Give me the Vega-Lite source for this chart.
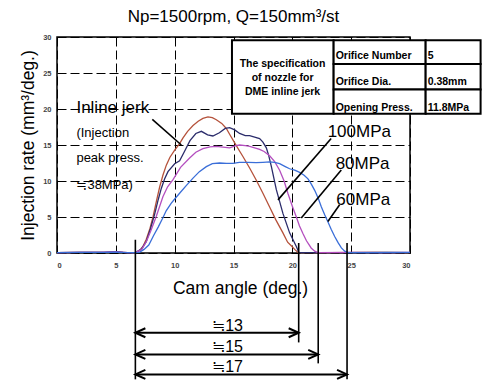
{
  "$schema": "https://vega.github.io/schema/vega-lite/v6.json",
  "width": 353,
  "height": 216,
  "autosize": {"type": "none"},
  "padding": {"left": 57, "top": 37, "right": 72, "bottom": 127},
  "background": "white",
  "title": {"text": "Np=1500rpm, Q=150mm³/st", "fontSize": 17, "fontWeight": "normal", "font": "Liberation Sans", "color": "black", "offset": 7},
  "config": {
    "view": {"stroke": "black", "strokeWidth": 1.5},
    "font": "Liberation Sans",
    "axis": {"grid": true, "gridColor": "black", "gridDash": [9, 4], "gridWidth": 1, "gridOpacity": 1, "domain": false, "ticks": false, "labelFont": "Liberation Sans", "labelFontSize": 7.5, "labelFontWeight": "bold", "labelColor": "#444", "titleFont": "Liberation Sans", "titleFontSize": 17.5, "titleFontWeight": "normal", "titleColor": "black"}
  },
  "datasets": {
    "curves": [
      {"s": "Inline jerk", "x": 0, "y": 0.05}, {"s": "Inline jerk", "x": 2, "y": 0.08}, {"s": "Inline jerk", "x": 4, "y": 0.08}, {"s": "Inline jerk", "x": 5, "y": 0.15}, {"s": "Inline jerk", "x": 6, "y": 0.05}, {"s": "Inline jerk", "x": 6.66, "y": 0.05},
      {"s": "Inline jerk", "x": 7.0, "y": 0.3}, {"s": "Inline jerk", "x": 7.3, "y": 0.9}, {"s": "Inline jerk", "x": 7.59, "y": 1.9}, {"s": "Inline jerk", "x": 7.9, "y": 3.4}, {"s": "Inline jerk", "x": 8.16, "y": 5.0}, {"s": "Inline jerk", "x": 8.45, "y": 7.2}, {"s": "Inline jerk", "x": 8.73, "y": 9.2}, {"s": "Inline jerk", "x": 9.0, "y": 10.8}, {"s": "Inline jerk", "x": 9.29, "y": 12.2}, {"s": "Inline jerk", "x": 9.6, "y": 13.3}, {"s": "Inline jerk", "x": 10.0, "y": 14.3}, {"s": "Inline jerk", "x": 10.42, "y": 15.2}, {"s": "Inline jerk", "x": 10.71, "y": 16.0}, {"s": "Inline jerk", "x": 11.1, "y": 16.9}, {"s": "Inline jerk", "x": 11.56, "y": 17.7}, {"s": "Inline jerk", "x": 12.0, "y": 18.3}, {"s": "Inline jerk", "x": 12.4, "y": 18.7}, {"s": "Inline jerk", "x": 12.83, "y": 18.9}, {"s": "Inline jerk", "x": 13.2, "y": 18.8}, {"s": "Inline jerk", "x": 13.54, "y": 18.5}, {"s": "Inline jerk", "x": 14.0, "y": 18.0}, {"s": "Inline jerk", "x": 14.39, "y": 17.3}, {"s": "Inline jerk", "x": 14.67, "y": 16.5}, {"s": "Inline jerk", "x": 15.1, "y": 15.3}, {"s": "Inline jerk", "x": 15.5, "y": 14.2}, {"s": "Inline jerk", "x": 15.8, "y": 13.4}, {"s": "Inline jerk", "x": 16.37, "y": 11.8}, {"s": "Inline jerk", "x": 16.94, "y": 10.1}, {"s": "Inline jerk", "x": 17.5, "y": 8.3}, {"s": "Inline jerk", "x": 18.07, "y": 6.4}, {"s": "Inline jerk", "x": 18.6, "y": 4.6}, {"s": "Inline jerk", "x": 19.2, "y": 2.8}, {"s": "Inline jerk", "x": 19.6, "y": 1.5}, {"s": "Inline jerk", "x": 19.91, "y": 1.0}, {"s": "Inline jerk", "x": 20.2, "y": 0.5}, {"s": "Inline jerk", "x": 20.5, "y": 0.05}, {"s": "Inline jerk", "x": 23, "y": 0.05}, {"s": "Inline jerk", "x": 27, "y": 0.08}, {"s": "Inline jerk", "x": 30, "y": 0.05},

      {"s": "100MPa", "x": 0, "y": 0.05}, {"s": "100MPa", "x": 2, "y": 0.1}, {"s": "100MPa", "x": 4, "y": 0.1}, {"s": "100MPa", "x": 5, "y": 0.2}, {"s": "100MPa", "x": 5.6, "y": 0.08}, {"s": "100MPa", "x": 6.66, "y": 0.05},
      {"s": "100MPa", "x": 7.2, "y": 0.6}, {"s": "100MPa", "x": 7.59, "y": 1.6}, {"s": "100MPa", "x": 7.95, "y": 3.4}, {"s": "100MPa", "x": 8.3, "y": 5.4}, {"s": "100MPa", "x": 8.6, "y": 7.4}, {"s": "100MPa", "x": 8.87, "y": 9.0}, {"s": "100MPa", "x": 9.15, "y": 10.3}, {"s": "100MPa", "x": 9.43, "y": 11.3}, {"s": "100MPa", "x": 10.0, "y": 12.4}, {"s": "100MPa", "x": 10.42, "y": 12.8}, {"s": "100MPa", "x": 10.8, "y": 14.0}, {"s": "100MPa", "x": 11.3, "y": 15.6}, {"s": "100MPa", "x": 11.8, "y": 16.6}, {"s": "100MPa", "x": 12.27, "y": 16.9}, {"s": "100MPa", "x": 12.8, "y": 16.4}, {"s": "100MPa", "x": 13.25, "y": 16.25}, {"s": "100MPa", "x": 13.8, "y": 16.7}, {"s": "100MPa", "x": 14.3, "y": 17.3}, {"s": "100MPa", "x": 14.67, "y": 17.4}, {"s": "100MPa", "x": 15.1, "y": 17.1}, {"s": "100MPa", "x": 15.52, "y": 16.6}, {"s": "100MPa", "x": 16.0, "y": 16.3}, {"s": "100MPa", "x": 16.37, "y": 16.3}, {"s": "100MPa", "x": 16.8, "y": 16.1}, {"s": "100MPa", "x": 17.22, "y": 15.9}, {"s": "100MPa", "x": 17.5, "y": 15.4}, {"s": "100MPa", "x": 17.79, "y": 14.6}, {"s": "100MPa", "x": 18.0, "y": 13.5}, {"s": "100MPa", "x": 18.22, "y": 12.0}, {"s": "100MPa", "x": 18.64, "y": 8.8}, {"s": "100MPa", "x": 19.2, "y": 5.5}, {"s": "100MPa", "x": 19.77, "y": 2.8}, {"s": "100MPa", "x": 20.34, "y": 0.9}, {"s": "100MPa", "x": 20.56, "y": 0.05}, {"s": "100MPa", "x": 24, "y": 0.05}, {"s": "100MPa", "x": 28, "y": 0.1}, {"s": "100MPa", "x": 30, "y": 0.05},

      {"s": "80MPa", "x": 0, "y": 0.05}, {"s": "80MPa", "x": 2, "y": 0.1}, {"s": "80MPa", "x": 3.5, "y": 0.08}, {"s": "80MPa", "x": 5, "y": 0.15}, {"s": "80MPa", "x": 6, "y": 0.05}, {"s": "80MPa", "x": 6.66, "y": 0.05},
      {"s": "80MPa", "x": 7.2, "y": 0.5}, {"s": "80MPa", "x": 7.6, "y": 1.6}, {"s": "80MPa", "x": 8.0, "y": 3.2}, {"s": "80MPa", "x": 8.44, "y": 5.1}, {"s": "80MPa", "x": 9.0, "y": 7.8}, {"s": "80MPa", "x": 9.4, "y": 9.2}, {"s": "80MPa", "x": 9.86, "y": 10.2}, {"s": "80MPa", "x": 10.5, "y": 11.9}, {"s": "80MPa", "x": 11.27, "y": 13.2}, {"s": "80MPa", "x": 11.8, "y": 14.0}, {"s": "80MPa", "x": 12.4, "y": 14.5}, {"s": "80MPa", "x": 13.0, "y": 14.75}, {"s": "80MPa", "x": 13.54, "y": 14.8}, {"s": "80MPa", "x": 14.1, "y": 14.7}, {"s": "80MPa", "x": 14.67, "y": 14.6}, {"s": "80MPa", "x": 15.2, "y": 14.9}, {"s": "80MPa", "x": 15.52, "y": 15.0}, {"s": "80MPa", "x": 16.0, "y": 14.9}, {"s": "80MPa", "x": 16.37, "y": 14.8}, {"s": "80MPa", "x": 16.8, "y": 14.6}, {"s": "80MPa", "x": 17.22, "y": 14.4}, {"s": "80MPa", "x": 17.6, "y": 14.1}, {"s": "80MPa", "x": 18.07, "y": 13.5}, {"s": "80MPa", "x": 18.5, "y": 12.7}, {"s": "80MPa", "x": 18.92, "y": 11.5}, {"s": "80MPa", "x": 19.3, "y": 10.0}, {"s": "80MPa", "x": 19.62, "y": 8.3}, {"s": "80MPa", "x": 20.0, "y": 6.5}, {"s": "80MPa", "x": 20.34, "y": 5.0}, {"s": "80MPa", "x": 20.6, "y": 3.8}, {"s": "80MPa", "x": 20.9, "y": 2.7}, {"s": "80MPa", "x": 21.2, "y": 1.7}, {"s": "80MPa", "x": 21.6, "y": 0.7}, {"s": "80MPa", "x": 21.9, "y": 0.25}, {"s": "80MPa", "x": 22.18, "y": 0.05}, {"s": "80MPa", "x": 25, "y": 0.08}, {"s": "80MPa", "x": 28, "y": 0.05}, {"s": "80MPa", "x": 30, "y": 0.08},

      {"s": "60MPa", "x": 0, "y": 0.05}, {"s": "60MPa", "x": 2, "y": 0.08}, {"s": "60MPa", "x": 4, "y": 0.1}, {"s": "60MPa", "x": 5, "y": 0.12}, {"s": "60MPa", "x": 6, "y": 0.05}, {"s": "60MPa", "x": 6.66, "y": 0.05},
      {"s": "60MPa", "x": 7.0, "y": 0.1}, {"s": "60MPa", "x": 7.4, "y": 0.5}, {"s": "60MPa", "x": 7.8, "y": 1.1}, {"s": "60MPa", "x": 8.2, "y": 2.4}, {"s": "60MPa", "x": 8.6, "y": 3.6}, {"s": "60MPa", "x": 9.0, "y": 4.9}, {"s": "60MPa", "x": 9.29, "y": 5.9}, {"s": "60MPa", "x": 9.7, "y": 6.9}, {"s": "60MPa", "x": 10.0, "y": 7.5}, {"s": "60MPa", "x": 10.42, "y": 8.3}, {"s": "60MPa", "x": 11.0, "y": 9.4}, {"s": "60MPa", "x": 11.56, "y": 10.4}, {"s": "60MPa", "x": 12.1, "y": 11.3}, {"s": "60MPa", "x": 12.69, "y": 12.0}, {"s": "60MPa", "x": 13.2, "y": 12.4}, {"s": "60MPa", "x": 13.82, "y": 12.5}, {"s": "60MPa", "x": 14.4, "y": 12.45}, {"s": "60MPa", "x": 14.95, "y": 12.45}, {"s": "60MPa", "x": 15.5, "y": 12.6}, {"s": "60MPa", "x": 16.23, "y": 12.6}, {"s": "60MPa", "x": 16.94, "y": 12.55}, {"s": "60MPa", "x": 17.5, "y": 12.6}, {"s": "60MPa", "x": 18.07, "y": 12.65}, {"s": "60MPa", "x": 18.5, "y": 12.6}, {"s": "60MPa", "x": 18.92, "y": 12.4}, {"s": "60MPa", "x": 19.4, "y": 12.0}, {"s": "60MPa", "x": 19.77, "y": 11.7}, {"s": "60MPa", "x": 20.2, "y": 11.5}, {"s": "60MPa", "x": 20.62, "y": 11.2}, {"s": "60MPa", "x": 21.0, "y": 10.8}, {"s": "60MPa", "x": 21.33, "y": 10.3}, {"s": "60MPa", "x": 21.6, "y": 9.6}, {"s": "60MPa", "x": 21.9, "y": 8.7}, {"s": "60MPa", "x": 22.2, "y": 7.6}, {"s": "60MPa", "x": 22.47, "y": 6.4}, {"s": "60MPa", "x": 22.75, "y": 5.3}, {"s": "60MPa", "x": 23.03, "y": 4.3}, {"s": "60MPa", "x": 23.3, "y": 3.3}, {"s": "60MPa", "x": 23.6, "y": 2.3}, {"s": "60MPa", "x": 23.9, "y": 1.4}, {"s": "60MPa", "x": 24.17, "y": 0.7}, {"s": "60MPa", "x": 24.45, "y": 0.25}, {"s": "60MPa", "x": 24.73, "y": 0.05}, {"s": "60MPa", "x": 27, "y": 0.05}, {"s": "60MPa", "x": 30, "y": 0.08}
    ],
    "leaders": [
      {"x": 8.1, "y": 18.56, "x2": 10.57, "y2": 15.0},
      {"x": 23.3, "y": 15.9, "x2": 18.78, "y2": 7.38},
      {"x": 24.16, "y": 11.54, "x2": 20.76, "y2": 4.85},
      {"x": 24.02, "y": 6.69, "x2": 23.02, "y2": 4.38}
    ],
    "cells": [
      {"x": 14.87, "x2": 23.51, "y": 19.33, "y2": 29.54},
      {"x": 23.51, "x2": 31.33, "y": 26.26, "y2": 29.54},
      {"x": 23.51, "x2": 31.33, "y": 22.71, "y2": 26.26},
      {"x": 23.51, "x2": 31.33, "y": 19.33, "y2": 22.71},
      {"x": 31.33, "x2": 36.0, "y": 26.26, "y2": 29.54},
      {"x": 31.33, "x2": 36.0, "y": 22.71, "y2": 26.26},
      {"x": 31.33, "x2": 36.0, "y": 19.33, "y2": 22.71}
    ],
    "tcenter": [
      {"x": 19.17, "y": 26.3, "t": "The specification"},
      {"x": 19.17, "y": 24.3, "t": "of  nozzle for"},
      {"x": 19.17, "y": 22.3, "t": "DME inline jerk"}
    ],
    "tleft": [
      {"x": 23.68, "y": 27.4, "t": "Orifice Number"},
      {"x": 23.68, "y": 23.8, "t": "Orifice Dia."},
      {"x": 23.68, "y": 20.19, "t": "Opening Press."},
      {"x": 31.5, "y": 27.4, "t": "5"},
      {"x": 31.5, "y": 23.8, "t": "0.38mm"},
      {"x": 31.5, "y": 20.19, "t": "11.8MPa"}
    ],
    "biglabels": [
      {"x": 1.65, "y": 20.1, "t": "Inline jerk"},
      {"x": 23.0, "y": 16.76, "t": "100MPa"},
      {"x": 23.68, "y": 12.4, "t": "80MPa"},
      {"x": 23.74, "y": 7.4, "t": "60MPa"}
    ],
    "smalllabels": [
      {"x": 1.65, "y": 16.7, "t": "(Injection"},
      {"x": 1.65, "y": 13.2, "t": "peak press."},
      {"x": 1.65, "y": 9.46, "t": "≒38MPa)"}
    ],
    "vlines": [
      {"x": 6.66, "y": 1.84, "y2": -17.55},
      {"x": 20.54, "y": 1.39, "y2": -12.42},
      {"x": 22.2, "y": 1.39, "y2": -15.33},
      {"x": 24.65, "y": 1.39, "y2": -17.55}
    ],
    "arrows": [
      {"x": 6.66, "x2": 20.54, "y": -11.08, "t": "≒13", "xm": 14.5, "yt": -10.07},
      {"x": 6.66, "x2": 22.2, "y": -14.09, "t": "≒15", "xm": 14.5, "yt": -13.02},
      {"x": 6.66, "x2": 24.65, "y": -16.86, "t": "≒17", "xm": 14.5, "yt": -15.79}
    ]
  },
  "encoding": {
    "x": {"field": "x", "type": "quantitative", "scale": {"domain": [0, 30], "nice": false, "zero": false},
      "axis": {"title": "Cam angle (deg.)", "values": [0, 5, 10, 15, 20, 25, 30], "labelPadding": 8, "titlePadding": 11, "titleX": 183}},
    "y": {"field": "y", "type": "quantitative", "scale": {"domain": [0, 30], "nice": false, "zero": false},
      "axis": {"title": "Injection rate (mm³/deg.)", "values": [0, 5, 10, 15, 20, 25, 30], "labelPadding": 6, "titlePadding": 5}}
  },
  "layer": [
    {
      "data": {"name": "curves"},
      "mark": {"type": "line", "strokeWidth": 1.3},
      "encoding": {
        "color": {"field": "s", "type": "nominal", "legend": null,
          "scale": {"domain": ["60MPa", "80MPa", "100MPa", "Inline jerk"], "range": ["#3A6ED8", "#B44FBF", "#2B2C6B", "#B5523B"]}}
      }
    },
    {
      "data": {"name": "leaders"},
      "mark": {"type": "rule", "color": "black", "strokeWidth": 1.6},
      "encoding": {"x2": {"field": "x2"}, "y2": {"field": "y2"}}
    },
    {
      "data": {"name": "cells"},
      "mark": {"type": "rect", "fill": "white", "stroke": "black", "strokeWidth": 2},
      "encoding": {"x2": {"field": "x2"}, "y2": {"field": "y2"}}
    },
    {
      "data": {"name": "tcenter"},
      "mark": {"type": "text", "font": "Liberation Sans", "fontSize": 10.5, "fontWeight": "bold", "align": "center", "baseline": "middle", "color": "black"},
      "encoding": {"text": {"field": "t"}}
    },
    {
      "data": {"name": "tleft"},
      "mark": {"type": "text", "font": "Liberation Sans", "fontSize": 10.5, "fontWeight": "bold", "align": "left", "baseline": "middle", "color": "black"},
      "encoding": {"text": {"field": "t"}}
    },
    {
      "data": {"name": "biglabels"},
      "mark": {"type": "text", "font": "Liberation Sans", "fontSize": 17, "align": "left", "baseline": "middle", "color": "black"},
      "encoding": {"text": {"field": "t"}}
    },
    {
      "data": {"name": "smalllabels"},
      "mark": {"type": "text", "font": "Liberation Sans", "fontSize": 13, "align": "left", "baseline": "middle", "color": "black"},
      "encoding": {"text": {"field": "t"}}
    },
    {
      "data": {"name": "vlines"},
      "mark": {"type": "rule", "color": "black", "strokeWidth": 1.6},
      "encoding": {"y2": {"field": "y2"}}
    },
    {
      "data": {"name": "arrows"},
      "mark": {"type": "rule", "color": "black", "strokeWidth": 2},
      "encoding": {"x2": {"field": "x2"}}
    },
    {
      "data": {"name": "arrows"},
      "mark": {"type": "point", "shape": "M 2 -0.9 L 0 0 L 2 0.9", "size": 100, "filled": false, "color": "black", "strokeWidth": 2, "opacity": 1}
    },
    {
      "data": {"name": "arrows"},
      "mark": {"type": "point", "shape": "M -2 -0.9 L 0 0 L -2 0.9", "size": 100, "filled": false, "color": "black", "strokeWidth": 2, "opacity": 1},
      "encoding": {"x": {"field": "x2", "type": "quantitative"}}
    },
    {
      "data": {"name": "arrows"},
      "mark": {"type": "text", "font": "Liberation Sans", "fontSize": 16, "align": "center", "baseline": "middle", "color": "black"},
      "encoding": {"x": {"field": "xm", "type": "quantitative"}, "y": {"field": "yt", "type": "quantitative"}, "text": {"field": "t"}}
    }
  ]
}
